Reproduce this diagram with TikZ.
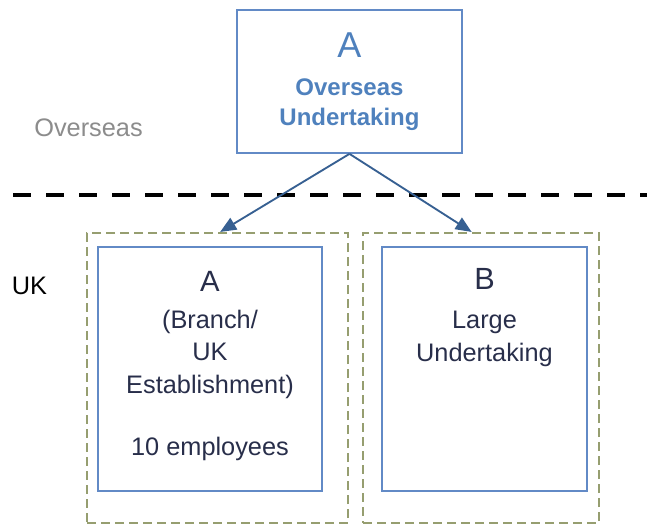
\documentclass[tikz,border=0pt]{standalone}
\usepackage{xcolor}
\usepackage{fontspec}
\setmainfont{Liberation Sans}
\usetikzlibrary{positioning,arrows.meta}

\definecolor{boxblue}{RGB}{98,138,198}
\definecolor{titleblue}{RGB}{79,129,189}
\definecolor{arrowblue}{RGB}{55,96,146}
\definecolor{olivedash}{RGB}{150,158,112}
\definecolor{navytext}{RGB}{40,46,74}
\definecolor{labelgray}{RGB}{140,140,140}

\begin{document}
\begin{tikzpicture}[x=0.75pt, y=-0.75pt,
        % Define block style
        block/.style={
        rectangle,
        draw=boxblue,
        line width=1.3pt,
        minimum height=183pt
        },
        zone/.style={
        rectangle,
        draw=olivedash,
        line width=1.6pt,
        dash pattern=on 6.5pt off 4pt,
        minimum height=217.5pt
        },
        blocktext/.style={
        inner sep=0pt,
        align=center,
        text=navytext,
        font=\fontsize{19}{24.4}\selectfont
        },
        sidelabel/.style={
        inner sep=0pt,
        font=\fontsize{19}{22}\selectfont
        }]
        \useasboundingbox (0,0) rectangle (647,525);

        % Zones
        \node[zone, minimum width=195.75pt] (ukleft) at (217.5,378) {};
        \node[zone, minimum width=177pt] (ukright) at (481,378) {};

        % Nodes
        \node[block, minimum width=168.75pt, minimum height=107.25pt, align=center,
              text=titleblue, font=\fontsize{18}{22.5}\selectfont\bfseries] (overseas) at (349.5,81.5)
              {{\fontsize{27}{22.5}\selectfont\mdseries A}\\[6.5pt]Overseas\\Undertaking};
        \node[block, minimum width=168pt] (branch) at (210,369) {};
        \node[block, minimum width=153.75pt] (large) at (484.5,369) {};

        % Texts
        \node[blocktext, below=18.75pt of branch.north] (branchtext)
              {{\fontsize{22}{24.4}\selectfont A}\\[3pt](Branch/\\UK\\Establishment)\\[22.6pt]10 employees};
        \node[blocktext, below=16.5pt of large.north] (largetext)
              {{\fontsize{23}{24.4}\selectfont B}\\[5pt]Large\\Undertaking};
        \node[sidelabel, text=labelgray] (overseaslabel) at (88.5,128) {Overseas};
        \node[sidelabel, text=black] (uklabel) at (29.5,286) {UK};

        % Border
        \coordinate (divleft) at (13,195);
        \coordinate (divright) at (647,195);
        \draw[line width=3pt, dash pattern=on 13.5pt off 11.25pt] (divleft) -- (divright);

        % Arrows
        \draw[-{Triangle[length=12pt,width=10pt]}, arrowblue, line width=1.4pt]
              (overseas.south) -- ([xshift=2pt]ukleft.north);
        \draw[-{Triangle[length=12pt,width=10pt]}, arrowblue, line width=1.4pt]
              (overseas.south) -- ([xshift=-7pt]ukright.north);
    \end{tikzpicture}
\end{document}
